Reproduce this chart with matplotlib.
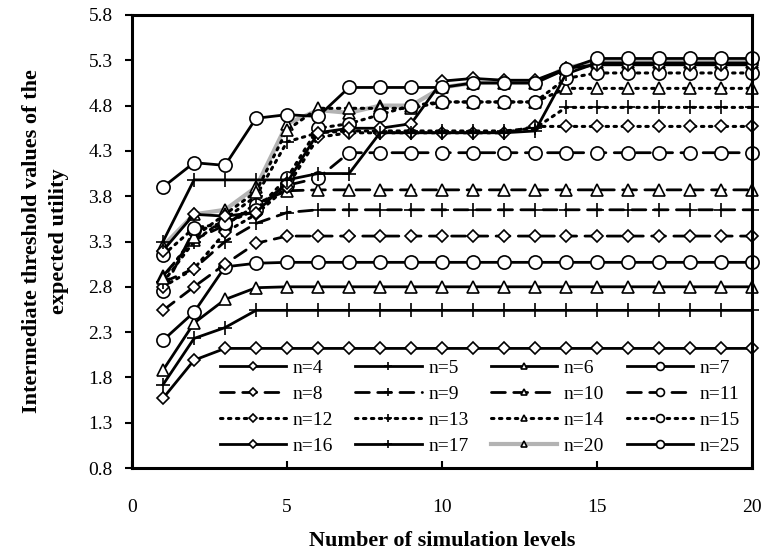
import matplotlib
matplotlib.use("Agg")
import matplotlib.pyplot as plt

plt.rcParams['font.family'] = ['Liberation Serif', 'DejaVu Serif']

levels = list(range(1, 21))

# values, one list per n
n4 = [1.57, 1.99, 2.12, 2.12, 2.12, 2.12, 2.12, 2.12, 2.12, 2.12, 2.12, 2.12, 2.12, 2.12, 2.12, 2.12, 2.12, 2.12, 2.12, 2.12]
n5 = [1.72, 2.23, 2.35, 2.54, 2.54, 2.54, 2.54, 2.54, 2.54, 2.54, 2.54, 2.54, 2.54, 2.54, 2.54, 2.54, 2.54, 2.54, 2.54, 2.54]
n6 = [1.88, 2.40, 2.66, 2.79, 2.80, 2.80, 2.80, 2.80, 2.80, 2.80, 2.80, 2.80, 2.80, 2.80, 2.80, 2.80, 2.80, 2.80, 2.80, 2.80]
n7 = [2.21, 2.52, 3.02, 3.06, 3.07, 3.07, 3.07, 3.07, 3.07, 3.07, 3.07, 3.07, 3.07, 3.07, 3.07, 3.07, 3.07, 3.07, 3.07, 3.07]
n8 = [2.54, 2.80, 3.05, 3.28, 3.36, 3.36, 3.36, 3.36, 3.36, 3.36, 3.36, 3.36, 3.36, 3.36, 3.36, 3.36, 3.36, 3.36, 3.36, 3.36]
n9 = [2.85, 3.00, 3.30, 3.50, 3.62, 3.65, 3.65, 3.65, 3.65, 3.65, 3.65, 3.65, 3.65, 3.65, 3.65, 3.65, 3.65, 3.65, 3.65, 3.65]
n10 = [2.92, 3.32, 3.48, 3.72, 3.86, 3.87, 3.87, 3.87, 3.87, 3.87, 3.87, 3.87, 3.87, 3.87, 3.87, 3.87, 3.87, 3.87, 3.87, 3.87]
n11 = [2.75, 3.43, 3.48, 3.70, 3.92, 4.00, 4.28, 4.28, 4.28, 4.28, 4.28, 4.28, 4.28, 4.28, 4.28, 4.28, 4.28, 4.28, 4.28, 4.28]
n12 = [2.80, 3.00, 3.40, 3.60, 3.90, 4.45, 4.50, 4.50, 4.50, 4.50, 4.50, 4.50, 4.57, 4.57, 4.57, 4.57, 4.57, 4.57, 4.57, 4.57]
n13 = [2.85, 3.30, 3.55, 3.80, 4.40, 4.50, 4.52, 4.52, 4.52, 4.52, 4.52, 4.52, 4.55, 4.78, 4.78, 4.78, 4.78, 4.78, 4.78, 4.78]
n14 = [2.90, 3.35, 3.60, 3.85, 4.53, 4.77, 4.77, 4.77, 4.77, 4.84, 4.84, 4.84, 4.84, 4.99, 4.99, 4.99, 4.99, 4.99, 4.99, 4.99]
n15 = [3.15, 3.45, 3.50, 3.65, 4.00, 4.55, 4.60, 4.70, 4.80, 4.84, 4.84, 4.84, 4.84, 5.10, 5.16, 5.16, 5.16, 5.16, 5.16, 5.16]
n16 = [3.20, 3.60, 3.58, 3.62, 3.95, 4.50, 4.55, 4.55, 4.60, 5.07, 5.10, 5.08, 5.08, 5.21, 5.25, 5.25, 5.25, 5.25, 5.25, 5.25]
n17 = [3.30, 3.98, 3.98, 3.98, 3.98, 4.05, 4.05, 4.50, 4.50, 4.50, 4.50, 4.50, 4.52, 5.15, 5.27, 5.27, 5.27, 5.27, 5.27, 5.27]
n20 = [3.25, 3.60, 3.65, 3.90, 4.60, 4.75, 4.72, 4.80, 4.80, 5.00, 5.05, 5.05, 5.05, 5.22, 5.28, 5.28, 5.28, 5.28, 5.28, 5.28]
n25 = [3.90, 4.17, 4.14, 4.66, 4.70, 4.68, 5.00, 5.00, 5.00, 5.00, 5.05, 5.05, 5.05, 5.20, 5.32, 5.32, 5.32, 5.32, 5.32, 5.32]

series = [("n=4", n4), ("n=5", n5), ("n=6", n6), ("n=7", n7),
          ("n=8", n8), ("n=9", n9), ("n=10", n10), ("n=11", n11),
          ("n=12", n12), ("n=13", n13), ("n=14", n14), ("n=15", n15),
          ("n=16", n16), ("n=17", n17), ("n=20", n20), ("n=25", n25)]

markers = ['D', '+', '^', 'o']
msizes = {'D': 6.6, '+': 10, '^': 8, 'o': 9.5}
dash = (0, (5, 3))
dot = (0, (0.8, 1.8))

fig = plt.figure(figsize=(7.69, 5.51), dpi=100)
ax = fig.add_axes([0.1717, 0.1506, 0.8063, 0.8222])

handles = []
for i, (name, vals) in enumerate(series):
    m = markers[i % 4]
    group = i // 4
    color = 'black'
    lw = 2.0
    ls = '-'
    z = 3
    if group == 1:
        ls = dash
    elif group == 2:
        ls = dot
        lw = 2.2
    if name == "n=20":
        # grey line sits underneath the black ones
        color = '#b3b3b3'
        lw = 3.0
        z = 2
    h, = ax.plot(levels, vals, linestyle=ls, color=color, lw=lw,
                 marker=m, ms=msizes[m], mfc='white', mec='black', mew=1.2,
                 dash_capstyle='round', label=name, clip_on=False, zorder=z)
    handles.append(h)

ax.set_xlim(0, 20)
ax.set_ylim(0.8, 5.8)
ax.set_xticks([0, 5, 10, 15, 20])
ax.set_yticks([0.8, 1.3, 1.8, 2.3, 2.8, 3.3, 3.8, 4.3, 4.8, 5.3, 5.8])
ax.set_yticklabels(["0.8", "1.3", "1.8", "2.3", "2.8", "3.3", "3.8", "4.3", "4.8", "5.3", "5.8"])
ax.tick_params(axis='x', direction='in', length=5, width=1.5, pad=22, labelsize=14)
ax.tick_params(axis='y', direction='out', length=5, width=1.5, pad=9, labelsize=14)
for s in ax.spines.values():
    s.set_linewidth(2.2)
    s.set_zorder(4)

ax.set_xlabel("Number of simulation levels", fontsize=16, fontweight='bold', labelpad=11)
ax.set_ylabel("Intermediate threshold values of the\nexpected utility", fontsize=16,
              fontweight='bold', labelpad=14, linespacing=1.45)

# legend reads across rows, matplotlib fills columns first
order = [0, 4, 8, 12, 1, 5, 9, 13, 2, 6, 10, 14, 3, 7, 11, 15]
leg = ax.legend([handles[k] for k in order], [series[k][0] for k in order],
                ncol=4, loc='lower left', bbox_to_anchor=(0.135, 0.02), frameon=False,
                fontsize=14, handlelength=3.4, markerscale=0.6, columnspacing=1.15,
                handletextpad=0.35, labelspacing=0.43, borderaxespad=0.0, borderpad=0.2)
leg.set_zorder(5)

fig.savefig("out.png", dpi=100)
